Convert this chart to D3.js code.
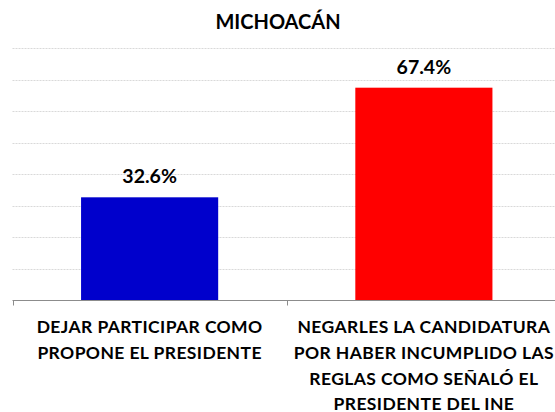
<!DOCTYPE html>
<html>
<head>
<meta charset="utf-8">
<script src="https://cdn.jsdelivr.net/npm/d3@7"></script>
<style>
  body { margin: 0; background: #fff; }
  text { font-family: Lato, "Open Sans", sans-serif; font-weight: bold; fill: #000; }
</style>
</head>
<body>
<script>
// data
const chart_title = "MICHOACÁN";
const categories = [
    "DEJAR PARTICIPAR COMO\nPROPONE EL PRESIDENTE",
    "NEGARLES LA CANDIDATURA\nPOR HABER INCUMPLIDO LAS\nREGLAS COMO SEÑALÓ EL\nPRESIDENTE DEL INE"
];
const values = [32.6, 67.4];
const bar_colors = ["#0000CC", "#FF0000"];
const grid_ticks = [10, 20, 30, 40, 50, 60, 70, 80];

// setup
const WIDTH = 555;
const HEIGHT = 412;
const plot = {left: 12.5, right: 561, top: 48, bottom: 300};

const svg = d3.select("body")
    .append("svg")
    .attr("width", WIDTH)
    .attr("height", HEIGHT);

const x = d3.scaleBand()
    .domain(categories)
    .range([plot.left, plot.right])
    .paddingInner(0.5)
    .paddingOuter(0.25);

const y = d3.scaleLinear()
    .domain([0, 80])
    .range([plot.bottom, plot.top]);

// gridlines
svg.append("g")
    .selectAll("line")
    .data(grid_ticks)
    .enter()
    .append("line")
    .attr("x1", plot.left)
    .attr("x2", WIDTH)
    .attr("y1", d => Math.round(y(d)) + 0.5)
    .attr("y2", d => Math.round(y(d)) + 0.5)
    .attr("stroke", "#d9d9d9")
    .attr("stroke-dasharray", "2,1");

// bars
svg.append("g")
    .selectAll("rect")
    .data(values)
    .enter()
    .append("rect")
    .attr("x", (d, i) => x(categories[i]))
    .attr("width", x.bandwidth())
    .attr("y", d => y(d))
    .attr("height", d => plot.bottom - y(d))
    .attr("fill", (d, i) => bar_colors[i]);

// x axis
const x_axis = d3.axisBottom(x).tickSize(0).tickFormat("");
const axis_g = svg.append("g")
    .attr("transform", "translate(0," + (plot.bottom + 0.5) + ")")
    .call(x_axis);
axis_g.select(".domain").remove();
axis_g.append("line")
    .attr("x1", plot.left).attr("x2", WIDTH)
    .attr("stroke", "#8c8c8c");
// boundary ticks between categories
const step = x.step();
axis_g.selectAll("line.Boundary")
    .data(d3.range(categories.length + 1))
    .enter()
    .append("line")
    .attr("class", "Boundary")
    .attr("x1", i => Math.round(plot.left + i * step) + 0.5)
    .attr("x2", i => Math.round(plot.left + i * step) + 0.5)
    .attr("y1", 0)
    .attr("y2", 5)
    .attr("stroke", "#8c8c8c");

// category labels
const labels = svg.append("g")
    .selectAll("text")
    .data(categories)
    .enter()
    .append("text")
    .attr("text-anchor", "middle")
    .style("font-size", "17.5px")
    .style("letter-spacing", "0.4px");

labels.each(function (d) {
    const t = d3.select(this);
    d.split("\n").forEach((line, k) => {
        t.append("tspan")
            .attr("x", x(d) + x.bandwidth() / 2)
            .attr("y", 333 + k * 25.8)
            .text(line);
    });
});

// value labels
svg.append("g")
    .selectAll("text")
    .data(values)
    .enter()
    .append("text")
    .attr("text-anchor", "middle")
    .attr("x", (d, i) => x(categories[i]) + x.bandwidth() / 2)
    .attr("y", d => y(d) - 14)
    .style("font-size", "19.5px")
    .text(d => d.toFixed(1) + "%");

// title
svg.append("text")
    .attr("text-anchor", "middle")
    .attr("x", 278)
    .attr("y", 28.5)
    .style("font-size", "20px")
    .text(chart_title);
</script>
</body>
</html>
